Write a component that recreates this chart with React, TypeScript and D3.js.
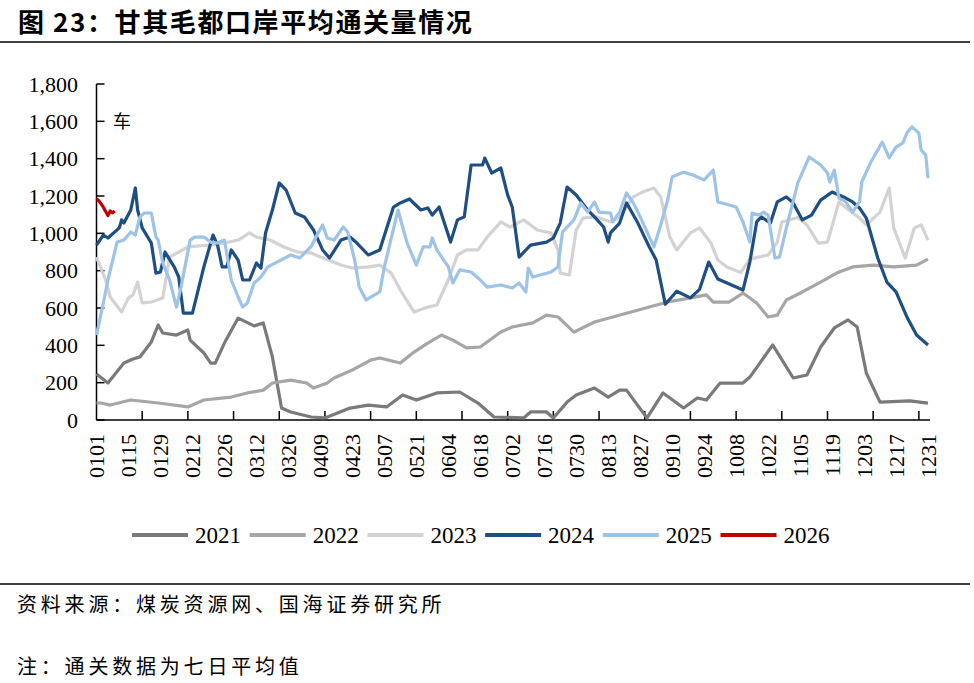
import React from "react";
import * as d3 from "d3";

// Day-of-year index (0 = 0101, 364 = 1231) and value (车)
const s2021: [number, number][] = [
  [0, 246], [5, 198], [12, 305], [16, 327], [19, 338], [24, 418], [27, 509], [29, 466],
  [35, 455], [40, 482], [41, 428], [47, 359], [50, 305], [52, 305], [56, 412], [62, 546],
  [69, 504], [73, 520], [77, 338], [81, 64], [85, 43], [94, 16], [100, 11], [111, 64],
  [119, 80], [127, 70], [134, 134], [140, 107], [149, 145], [159, 150], [167, 91], [174, 16],
  [187, 11], [190, 43], [197, 43], [200, 11], [206, 96], [210, 134], [218, 171], [224, 123],
  [229, 160], [232, 160], [241, 11], [248, 145], [257, 64], [263, 118], [267, 107], [273, 198],
  [283, 198], [286, 230], [296, 402], [305, 225], [311, 241], [317, 391], [323, 493], [329, 536],
  [333, 498], [337, 252], [343, 96], [356, 102], [364, 90],
];

const s2022: [number, number][] = [
  [0, 92], [2, 91], [6, 80], [15, 107], [27, 91], [40, 70], [47, 107], [59, 123], [66, 145],
  [73, 160], [77, 198], [85, 214], [92, 198], [95, 171], [101, 198], [104, 225], [112, 268],
  [120, 321], [124, 332], [133, 305], [139, 364], [145, 412], [151, 455], [156, 428], [162, 386],
  [168, 391], [177, 471], [182, 498], [191, 520], [197, 562], [202, 552], [209, 471], [218, 525],
  [226, 552], [234, 579], [242, 605], [250, 632], [260, 654], [267, 670], [270, 632], [277, 632],
  [283, 680], [289, 627], [294, 552], [298, 562], [302, 643], [309, 686], [317, 739], [324, 787],
  [331, 820], [340, 830], [349, 820], [359, 830], [364, 862],
];

const s2023: [number, number][] = [
  [0, 873], [4, 750], [6, 659], [11, 579], [14, 654], [16, 670], [18, 739], [20, 627],
  [24, 632], [29, 654], [32, 873], [40, 927], [49, 937], [56, 948], [62, 964], [67, 1002],
  [70, 980], [76, 964], [82, 927], [88, 900], [94, 895], [98, 873], [107, 830], [112, 814],
  [119, 820], [124, 830], [129, 787], [133, 696], [139, 579], [145, 605], [149, 616], [154, 750],
  [158, 884], [162, 911], [167, 911], [171, 980], [177, 1061], [181, 1034], [187, 1072],
  [193, 1018], [199, 1002], [202, 911], [203, 787], [207, 777], [210, 1018], [213, 1082],
  [219, 1088], [225, 1061], [229, 1088], [235, 1195], [239, 1221], [244, 1243], [247, 1195],
  [251, 980], [254, 911], [260, 1002], [264, 1029], [269, 948], [272, 857], [276, 820],
  [282, 790], [286, 862], [294, 884], [298, 953], [300, 1061], [307, 1085], [311, 1045],
  [316, 948], [320, 953], [325, 1168], [330, 1120], [334, 1082], [337, 1045], [343, 1114],
  [347, 1243], [349, 1029], [354, 868], [358, 1029], [361, 1045], [364, 964],
];

const s2024: [number, number][] = [
  [0, 937], [3, 991], [5, 975], [10, 1029], [11, 1072], [12, 1055], [15, 1125], [17, 1243],
  [18, 1125], [20, 1029], [24, 948], [26, 787], [28, 793], [30, 900], [34, 820], [36, 766],
  [38, 573], [42, 573], [47, 820], [51, 991], [53, 937], [55, 820], [57, 820], [59, 911],
  [62, 857], [64, 750], [67, 750], [70, 841], [72, 814], [74, 1002], [77, 1125], [80, 1270],
  [83, 1232], [87, 1109], [91, 1088], [95, 1018], [99, 911], [102, 868], [107, 964], [111, 980],
  [114, 948], [119, 884], [124, 911], [130, 1141], [133, 1163], [137, 1184], [142, 1125],
  [145, 1136], [147, 1098], [150, 1141], [155, 953], [158, 1072], [161, 1088], [164, 1366],
  [169, 1366], [170, 1403], [173, 1323], [177, 1350], [180, 1205], [182, 1141], [185, 873],
  [190, 937], [197, 953], [200, 975], [203, 1055], [206, 1248], [210, 1205], [215, 1125],
  [218, 1088], [222, 1034], [224, 953], [225, 1002], [229, 1055], [232, 1163], [237, 1055],
  [242, 927], [245, 857], [249, 620], [254, 690], [260, 654], [264, 700], [268, 846],
  [272, 755], [283, 696], [286, 846], [289, 1061], [291, 1088], [295, 1055], [298, 1168],
  [302, 1195], [305, 1163], [309, 1072], [313, 1098], [317, 1178], [322, 1221], [327, 1195],
  [331, 1168], [334, 1136], [337, 1082], [342, 868], [346, 739], [350, 686], [355, 546],
  [359, 455], [364, 402],
];

const s2025: [number, number][] = [
  [0, 455], [3, 627], [5, 750], [9, 953], [12, 964], [15, 1007], [17, 991], [19, 1088],
  [21, 1109], [24, 1109], [26, 980], [27, 964], [29, 841], [32, 750], [35, 605], [37, 712],
  [41, 964], [43, 980], [47, 980], [50, 953], [53, 948], [56, 964], [59, 750], [62, 659],
  [64, 605], [66, 627], [69, 734], [72, 766], [75, 820], [79, 846], [85, 884], [89, 868],
  [94, 930], [97, 1002], [99, 1045], [101, 975], [104, 964], [108, 1034], [110, 1007],
  [113, 857], [115, 712], [118, 643], [124, 686], [126, 820], [132, 1125], [134, 1034],
  [136, 948], [140, 830], [143, 927], [146, 927], [147, 975], [149, 911], [154, 820],
  [156, 734], [159, 804], [164, 793], [168, 750], [171, 712], [177, 723], [182, 707],
  [185, 734], [188, 686], [189, 814], [191, 766], [199, 793], [202, 820], [204, 1007],
  [209, 1072], [212, 1163], [215, 1114], [218, 1168], [220, 1114], [225, 1109], [226, 1061],
  [229, 1114], [232, 1216], [235, 1163], [238, 1088], [244, 927], [247, 1045], [250, 1178],
  [252, 1302], [257, 1328], [261, 1312], [266, 1286], [270, 1339], [272, 1168], [277, 1152],
  [280, 1141], [283, 1061], [286, 953], [287, 1109], [290, 1098], [292, 1114], [294, 1098],
  [297, 868], [299, 873], [302, 1029], [307, 1270], [312, 1409], [317, 1366], [320, 1323],
  [321, 1275], [323, 1339], [325, 1189], [328, 1168], [331, 1114], [334, 1168], [335, 1275],
  [339, 1382], [342, 1446], [344, 1489], [347, 1404], [350, 1462], [353, 1484], [355, 1543],
  [357, 1570], [360, 1537], [361, 1446], [363, 1420], [364, 1296],
];

const s2026: [number, number][] = [
  [0, 1185], [1, 1175], [3, 1140], [5, 1095], [6, 1120], [7, 1110], [8, 1120],
];

const seriesNames = ["2021", "2022", "2023", "2024", "2025", "2026"];
const seriesData = [s2021, s2022, s2023, s2024, s2025, s2026];
const seriesColors = ["#7a7a7a", "#a6a6a6", "#d3d3d3", "#1f4e82", "#9dc3e6", "#c00000"];

const xLabels = [
  "0101", "0115", "0129", "0212", "0226", "0312", "0326", "0409", "0423", "0507", "0521",
  "0604", "0618", "0702", "0716", "0730", "0813", "0827", "0910", "0924", "1008", "1022",
  "1105", "1119", "1203", "1217", "1231",
];
const xLabelStep = 14;
const xTickStep = 20;
const yTicks = [0, 200, 400, 600, 800, 1000, 1200, 1400, 1600, 1800];

const title = "图 23：甘其毛都口岸平均通关量情况";
const unitLabel = "车";
const source = "资料来源：煤炭资源网、国海证券研究所";
const note = "注：通关数据为七日平均值";

const W = 974;
const H = 683;
const serif = "'Liberation Serif', 'Times New Roman', serif";
const cjk = "'Noto Sans CJK SC', sans-serif";

export default function App() {
  const x = d3.scaleLinear().domain([0, 364]).range([96.5, 928]);
  const y = d3.scaleLinear().domain([0, 1800]).range([420, 84]);
  const line = d3
    .line<[number, number]>()
    .x((d) => x(d[0]))
    .y((d) => y(d[1]));
  const fmt = d3.format(",");
  const tickDays = d3.range(xTickStep, 365, xTickStep);

  return (
    <svg
      width={W}
      height={H}
      style={{ position: "absolute", left: 0, top: 0, background: "#fff" }}
    >
      <rect x={0} y={0} width={W} height={H} fill="#fff" />
      <text
        x={18}
        y={32}
        fontFamily={cjk}
        fontWeight="bold"
        fontSize={26}
        letterSpacing={1.6}
        fill="#000"
      >
        {title}
      </text>
      <line x1={0} x2={970} y1={42} y2={42} stroke="#404040" strokeWidth={2} />

      {/* axes */}
      <line x1={x(0)} x2={x(0)} y1={84} y2={420} stroke="#000" strokeWidth={1.5} />
      <line x1={x(0)} x2={930} y1={420} y2={420} stroke="#000" strokeWidth={1.5} />
      {yTicks.map((t) => (
        <g key={t}>
          <line x1={x(0)} x2={x(0) + 8} y1={y(t)} y2={y(t)} stroke="#000" strokeWidth={1.5} />
          <text
            x={78}
            y={y(t)}
            dy="0.35em"
            textAnchor="end"
            fontFamily={serif}
            fontSize={22}
            fill="#000"
          >
            {fmt(t)}
          </text>
        </g>
      ))}
      {tickDays.map((d) => (
        <line key={d} x1={x(d)} x2={x(d)} y1={420} y2={411} stroke="#000" strokeWidth={1.5} />
      ))}
      {xLabels.map((lab, i) => {
        const px = x(i * xLabelStep);
        return (
          <text
            key={lab}
            transform={`translate(${px},434) rotate(-90)`}
            textAnchor="end"
            dy="0.35em"
            fontFamily={serif}
            fontSize={22}
            fill="#000"
          >
            {lab}
          </text>
        );
      })}
      <text x={113} y={128} fontFamily={cjk} fontSize={18} fill="#000">
        {unitLabel}
      </text>

      {/* series */}
      {seriesData.map((s, i) => (
        <path
          key={seriesNames[i]}
          d={line(s) || ""}
          fill="none"
          stroke={seriesColors[i]}
          strokeWidth={3.2}
          strokeLinejoin="round"
        />
      ))}

      {/* legend */}
      {seriesNames.map((n, i) => {
        const lx = 132 + i * 117.7;
        return (
          <g key={n}>
            <line x1={lx} x2={lx + 56} y1={535} y2={535} stroke={seriesColors[i]} strokeWidth={4} />
            <text x={lx + 63} y={535} dy="0.35em" fontFamily={serif} fontSize={23} fill="#000">
              {n}
            </text>
          </g>
        );
      })}

      <line x1={0} x2={970} y1={584} y2={584} stroke="#404040" strokeWidth={2} />
      <text x={17} y={612} fontFamily={cjk} fontSize={20} letterSpacing={3.8} fill="#000">
        {source}
      </text>
      <text x={17} y={674} fontFamily={cjk} fontSize={20} letterSpacing={3.8} fill="#000">
        {note}
      </text>
    </svg>
  );
}
